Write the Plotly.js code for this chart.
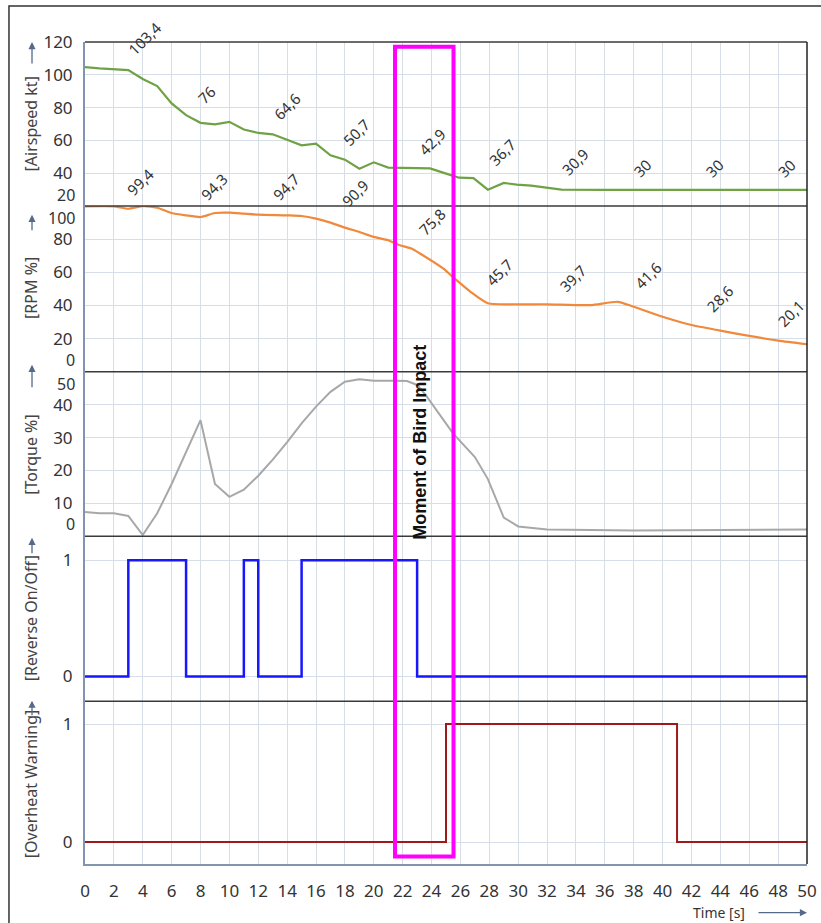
<!DOCTYPE html>
<html>
<head>
<meta charset="utf-8">
<script src="https://cdn.plot.ly/plotly-3.0.1.min.js"></script>
<style>html,body{margin:0;padding:0;background:#fff;}#chart{width:821px;height:923px;}</style>
</head>
<body>
<div id="chart"></div>
<script>
// ---------- data ----------
const airspeedT = [0,1,3,4,5,6,7,8,9,10,11,12,13,14,15,16,17,18,19,20,21,22,23.9,24.9,25.9,26.9,27.9,29,29.9,30.9,32,33,36,40,45,50];
const airspeed  = [104.7,103.9,102.9,97.4,93.1,82.5,75.4,70.7,69.8,71.3,66.6,64.5,63.7,60.5,57,58,50.9,48.2,42.7,46.6,43.4,43.2,42.9,40,37.2,37,29.9,34,33,32.4,30.9,29.9,29.8,29.8,29.8,29.8];

const rpmT = [0,2,3,4,5,6,7,8,9,10,11,12,14,15,16,17,18,19,20,21,21.8,22.6,23.2,24.8,25.5,26.7,27.9,29.9,32,35,36.9,38,40,42,44,46,48,50];
const rpm  = [99.7,99.7,98.3,99.9,98.9,95.7,94.3,93.3,95.7,95.9,95.3,94.7,94.3,93.9,92.3,89.9,86.9,84.3,81.3,79.3,76.3,74.3,71.3,62.3,56.9,48.2,41.3,40.7,40.7,40.2,42.2,39.2,33.2,28.2,24.8,21.6,18.8,16.6];

const torqueT = [0,1,2,3,4,5,6,7,8,9,10,11,12,13,14,15,16,17,18,19,20,21.5,22.3,23,23.6,25.5,27,27.9,29,30,32,38,47,50];
const torque  = [7.4,7.0,7.0,6.2,0.4,7.0,15.9,25.6,35.3,15.9,12.0,14.2,18.4,23.3,28.6,34.3,39.4,43.9,47,47.7,47.3,47.3,47.2,46,42.9,31.2,24.1,17.4,5.7,3.0,2.1,1.8,2.1,2.1];

const reverseT = [0,3,7,11,12,15,23,50];
const reverse  = [0,1,0,1,0,1,0,0];

const overheatT = [0,25,41,50];
const overheat  = [0,1,0,0];

const timeTicks = [0,2,4,6,8,10,12,14,16,18,20,22,24,26,28,30,32,34,36,38,40,42,44,46,48,50];

// value labels (rotated); positions: x in seconds, y as fraction of plot height
const airspeedLabels = ['103,4','76','64,6','50,7','42,9','36,7','30,9','30','30','30'];
const airspeedLabelX = [4.15,8.4,14,18.8,24,28.9,33.9,38.6,43.6,48.6];
const airspeedLabelY = [1.0049,0.9355,0.9222,0.8909,0.8788,0.8666,0.8544,0.8464,0.8464,0.8464];

const rpmLabels = ['99,4','94,3','94,7','90,9','75,8','45,7','39,7','41,6','28,6','20,1'];
const rpmLabelX = [3.8,8.9,13.9,18.7,24,28.7,33.8,39,44,48.9];
const rpmLabelY = [0.8301,0.8240,0.8240,0.8164,0.7815,0.7207,0.7126,0.7167,0.6883,0.6701];

// event window
const impactStart = 21.47, impactEnd = 25.52, impactTextX = 23.2;

// ---------- layout helpers ----------
const FONT = 'Noto Sans, Open Sans, sans-serif';
const GRID = '#d7dee8';
const AXIS = '#8294ae';
const domains = [[0.8006,1],[0.5988,0.8006],[0.3986,0.5988],[0.198,0.3986],[0,0.198]];

const traces = [
  {x: airspeedT, y: airspeed, xaxis:'x', yaxis:'y', mode:'lines', line:{color:'#6fa245', width:2.2}},
  {x: rpmT, y: rpm, xaxis:'x2', yaxis:'y2', mode:'lines', line:{color:'#f0893c', width:2.2, shape:'spline', smoothing:0.6}},
  {x: torqueT, y: torque, xaxis:'x3', yaxis:'y3', mode:'lines', line:{color:'#a8a8a8', width:2}},
  {x: reverseT, y: reverse, xaxis:'x4', yaxis:'y4', mode:'lines', line:{color:'#1717ff', width:2.5, shape:'hv'}},
  {x: overheatT, y: overheat, xaxis:'x5', yaxis:'y5', mode:'lines', line:{color:'#9e1a1a', width:2, shape:'hv'}}
];

const layout = {
  width: 821, height: 923,
  margin: {l:85, r:14, t:42, b:59},
  paper_bgcolor:'#fff', plot_bgcolor:'#fff',
  showlegend:false,
  font:{family:FONT, color:'#333', size:17},
  annotations: [], shapes: []
};

const yRanges = [[20,120],[0,100],[0,50],[-0.214,1.206],[-0.186,1.194]];
const yTicks = [[40,60,80,100,120],[20,40,60,80],[10,20,30,40],[0,1],[0,1]];

for (let i=0;i<5;i++){
  const s = i===0 ? '' : String(i+1);
  layout['xaxis'+s] = {
    anchor:'y'+s, domain:[0,1], range:[0,50], tickvals: timeTicks,
    showgrid:true, gridcolor:GRID, gridwidth:1, zeroline:false,
    showticklabels: i===4, showline: i===4, linecolor:AXIS, linewidth:2,
    ticks: i===4 ? 'outside' : '', ticklen:11, tickcolor:'rgba(0,0,0,0)',
    tickfont:{size:17, color:'#333'}, fixedrange:true
  };
  if (i>0) layout['xaxis'+s].matches = 'x';
  layout['yaxis'+s] = {
    anchor:'x'+s, domain:domains[i], range:yRanges[i], tickvals:yTicks[i],
    showgrid:true, gridcolor:GRID, gridwidth:1, zeroline:false,
    showline:true, linecolor:AXIS, linewidth:2,
    ticks:'outside', ticklen:7, tickcolor:'rgba(0,0,0,0)',
    tickfont:{size:17, color:'#333'}, fixedrange:true
  };
}

// end tick labels shifted inward (as in reference)
const endLabels = [
  {ref:'y', v:20, t:'20', shift:11},
  {ref:'y2', v:100, t:'100', shift:-12},
  {ref:'y2', v:0, t:'0', shift:12},
  {ref:'y3', v:50, t:'50', shift:-12},
  {ref:'y3', v:0, t:'0', shift:12}
];
endLabels.forEach(e=>layout.annotations.push({
  xref:'paper', yref:e.ref, x:0, y:e.v, text:e.t, showarrow:false,
  xanchor:'right', yanchor:'middle', xshift:-8, yshift:e.shift,
  font:{size:16, color:'#333'}
}));

// value labels
airspeedLabels.forEach((t,k)=>layout.annotations.push({
  xref:'x', yref:'paper', x:airspeedLabelX[k], y:airspeedLabelY[k], text:t,
  xanchor:'center', yanchor:'middle',
  showarrow:false, textangle:-45, font:{size:15, color:'#333'}
}));
rpmLabels.forEach((t,k)=>layout.annotations.push({
  xref:'x2', yref:'paper', x:rpmLabelX[k], y:rpmLabelY[k], text:t,
  xanchor:'center', yanchor:'middle',
  showarrow:false, textangle:-45, font:{size:15, color:'#333'}
}));

// y titles
const yTitles = [
  {t:'[Airspeed kt]', y:0.9009},
  {t:'[RPM %]', y:0.7008},
  {t:'[Torque %]', y:0.4978},
  {t:'[Reverse On/Off]', y:0.2989},
  {t:'[Overheat Warning]', y:0.0983}
];
yTitles.forEach(o=>layout.annotations.push({
  xref:'paper', yref:'paper', x:-0.0748, y:o.y, text:o.t, showarrow:false,
  textangle:-90, xanchor:'center', yanchor:'middle', font:{size:16, color:'#444'}
}));
// title arrows
const arrows = [
  {y:1.0, ay:23}, {y:0.7897, ay:17}, {y:0.6073, ay:24}, {y:0.3968, ay:17}, {y:0.1987, ay:16}
];
arrows.forEach(a=>layout.annotations.push({
  xref:'paper', yref:'paper', x:-0.0734, y:a.y, ax:0, ay:a.ay, text:'',
  showarrow:true, arrowhead:2, arrowsize:1.1, arrowwidth:1.3, arrowcolor:'#56698a'
}));
// time title + arrow
layout.annotations.push({
  xref:'paper', yref:'paper', x:0.8788, y:-0.0592, text:'Time [s]', showarrow:false,
  xanchor:'center', yanchor:'middle', font:{size:14, color:'#333'}
});
layout.annotations.push({
  xref:'paper', yref:'paper', x:1.0, y:-0.0592, ax:-50, ay:0, text:'',
  showarrow:true, arrowhead:2, arrowsize:1.1, arrowwidth:1.3, arrowcolor:'#56698a'
});
// bird impact text
layout.annotations.push({
  xref:'x', yref:'paper', x:impactTextX, y:0.5124, text:'<b>Moment of Bird Impact</b>',
  showarrow:false, textangle:-90, xanchor:'center', yanchor:'middle',
  font:{family:'Liberation Sans, Arial, sans-serif', size:18, color:'#111'}
});

// panel dividers and borders
[1.0,0.8006,0.5988,0.3986,0.198].forEach(y=>layout.shapes.push({
  type:'line', xref:'paper', yref:'paper', x0:0, x1:1, y0:y, y1:y,
  line:{color:'#3a3a3a', width:1.5}
}));
layout.shapes.push({type:'line', xref:'paper', yref:'paper', x0:1, x1:1, y0:0, y1:1,
  line:{color:'#222', width:1.5}});
// outer frame
layout.shapes.push({type:'rect', xref:'paper', yref:'paper', x0:-0.1053, x1:1.03, y0:-0.09, y1:1.0438,
  line:{color:'#333', width:1.5}});
// impact window
layout.shapes.push({type:'rect', xref:'x', yref:'paper', x0:impactStart, x1:impactEnd, y0:0.0092, y1:0.9943,
  line:{color:'#ff00ff', width:4}});

Plotly.newPlot('chart', traces, layout, {staticPlot:true, displayModeBar:false});
</script>
</body>
</html>
